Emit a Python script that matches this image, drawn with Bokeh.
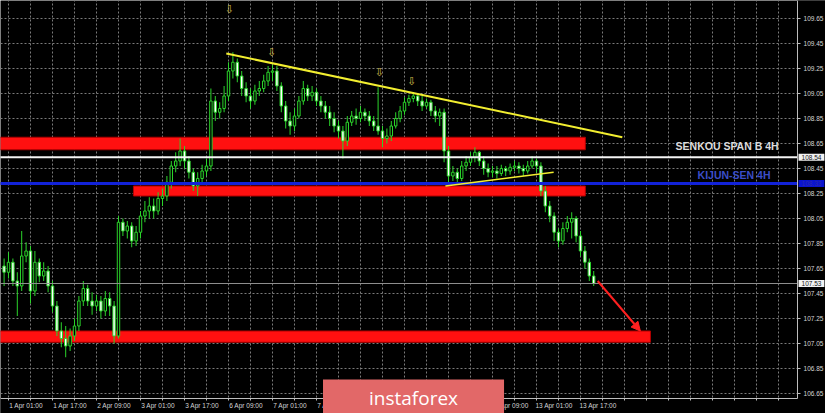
import numpy as np
from bokeh.plotting import figure
from bokeh.models import (Range1d, FixedTicker, PrintfTickFormatter, Label, Arrow,
                          NormalHead, LinearAxis)
from bokeh.core.properties import value
from bokeh.embed import file_html
from bokeh.resources import INLINE

# ---------------- data (candles) ----------------
opens = [
    107.67, 107.62, 107.70, 107.55, 107.51, 107.75, 107.79, 107.47, 107.70, 107.59,
    107.63, 107.51, 107.35, 107.15, 107.09, 107.03, 107.11, 107.19, 107.39, 107.49,
    107.39, 107.35, 107.39, 107.31, 107.41, 107.35, 107.11, 108.02, 107.95, 107.99,
    107.87, 107.94, 108.07, 108.11, 108.15, 108.11, 108.21, 108.23, 108.34, 108.47,
    108.51, 108.59, 108.51, 108.42, 108.31, 108.37, 108.43, 108.47, 108.99, 108.90,
    108.93, 109.03, 109.23, 109.30, 109.19, 109.09, 109.03, 108.99, 109.07, 109.09,
    109.15, 109.22, 109.23, 109.11, 108.95, 108.83, 108.79, 108.87, 108.99, 109.09,
    109.03, 109.06, 108.99, 108.95, 108.90, 108.85, 108.79, 108.75, 108.67, 108.82,
    108.87, 108.85, 108.90, 108.87, 108.83, 108.79, 108.75, 108.69, 108.71, 108.79,
    108.85, 108.91, 108.98, 109.01, 109.03, 108.99, 108.95, 108.98, 108.91, 108.87,
    108.90, 108.59, 108.39, 108.42, 108.37, 108.47, 108.50, 108.54, 108.58, 108.51,
    108.45, 108.42, 108.43, 108.41, 108.45, 108.43, 108.46, 108.47, 108.45, 108.43,
    108.47, 108.51, 108.47, 108.27, 108.15, 108.07, 107.94, 107.87, 107.97, 108.02,
    108.05, 107.91, 107.79, 107.70, 107.59,
]
highs = [
    107.73, 107.78, 107.73, 107.62, 107.95, 107.86, 107.83, 107.79, 107.73, 107.70,
    107.67, 107.55, 107.39, 107.22, 107.19, 107.17, 107.25, 107.43, 107.55, 107.52,
    107.46, 107.44, 107.43, 107.47, 107.46, 107.39, 108.07, 108.05, 108.03, 108.02,
    107.99, 108.11, 108.19, 108.22, 108.21, 108.26, 108.29, 108.39, 108.51, 108.58,
    108.69, 108.63, 108.55, 108.45, 108.42, 108.48, 108.53, 109.09, 109.03, 108.98,
    109.11, 109.30, 109.38, 109.33, 109.23, 109.14, 109.09, 109.12, 109.15, 109.20,
    109.27, 109.28, 109.27, 109.14, 108.99, 108.90, 108.93, 109.03, 109.15, 109.12,
    109.11, 109.09, 109.03, 108.99, 108.95, 108.90, 108.83, 108.79, 108.87, 108.91,
    108.93, 108.95, 108.93, 108.91, 108.87, 109.10, 108.79, 108.77, 108.83, 108.90,
    108.95, 109.02, 109.04, 109.06, 109.05, 109.03, 109.01, 109.00, 108.95, 108.93,
    108.93, 108.63, 108.47, 108.45, 108.51, 108.55, 108.58, 108.62, 108.59, 108.55,
    108.49, 108.47, 108.47, 108.48, 108.47, 108.49, 108.51, 108.50, 108.48, 108.51,
    108.55, 108.53, 108.50, 108.31, 108.19, 108.10, 107.97, 108.02, 108.07, 108.10,
    108.07, 107.95, 107.83, 107.73, 107.63,
]
lows = [
    107.51, 107.57, 107.51, 107.27, 107.47, 107.70, 107.37, 107.43, 107.54, 107.55,
    107.46, 107.30, 107.11, 107.02, 106.94, 106.99, 107.07, 107.15, 107.35, 107.35,
    107.28, 107.31, 107.25, 107.27, 107.27, 107.05, 107.09, 107.91, 107.89, 107.82,
    107.83, 107.89, 108.02, 108.05, 108.05, 108.08, 108.15, 108.19, 108.29, 108.42,
    108.47, 108.45, 108.37, 108.27, 108.23, 108.34, 108.39, 108.43, 108.83, 108.85,
    108.90, 108.99, 109.17, 109.14, 109.03, 108.98, 108.93, 108.96, 109.03, 109.06,
    109.11, 109.15, 109.07, 108.90, 108.77, 108.72, 108.75, 108.85, 108.96, 108.99,
    108.99, 108.95, 108.90, 108.85, 108.79, 108.74, 108.69, 108.53, 108.63, 108.79,
    108.80, 108.82, 108.83, 108.79, 108.75, 108.72, 108.62, 108.65, 108.67, 108.77,
    108.82, 108.88, 108.95, 108.98, 108.95, 108.91, 108.93, 108.87, 108.82, 108.79,
    108.50, 108.34, 108.35, 108.33, 108.35, 108.43, 108.47, 108.50, 108.47, 108.40,
    108.38, 108.38, 108.37, 108.39, 108.39, 108.40, 108.43, 108.41, 108.39, 108.41,
    108.45, 108.42, 108.23, 108.10, 108.02, 107.87, 107.82, 107.84, 107.94, 107.89,
    107.86, 107.75, 107.65, 107.55, 107.51,
]
closes = [
    107.62, 107.70, 107.55, 107.51, 107.75, 107.79, 107.47, 107.70, 107.59, 107.63,
    107.51, 107.35, 107.15, 107.09, 107.03, 107.11, 107.19, 107.39, 107.49, 107.39,
    107.35, 107.39, 107.31, 107.41, 107.35, 107.11, 108.02, 107.95, 107.99, 107.87,
    107.94, 108.07, 108.11, 108.15, 108.11, 108.21, 108.23, 108.34, 108.47, 108.51,
    108.59, 108.51, 108.42, 108.31, 108.37, 108.43, 108.47, 108.99, 108.90, 108.93,
    109.03, 109.23, 109.30, 109.19, 109.09, 109.03, 108.99, 109.07, 109.09, 109.15,
    109.22, 109.23, 109.11, 108.95, 108.83, 108.79, 108.87, 108.99, 109.09, 109.03,
    109.06, 108.99, 108.95, 108.90, 108.85, 108.79, 108.75, 108.67, 108.82, 108.87,
    108.85, 108.90, 108.87, 108.83, 108.79, 108.75, 108.69, 108.71, 108.79, 108.85,
    108.91, 108.98, 109.01, 109.03, 108.99, 108.95, 108.98, 108.91, 108.87, 108.90,
    108.59, 108.39, 108.42, 108.37, 108.47, 108.50, 108.54, 108.58, 108.51, 108.45,
    108.42, 108.43, 108.41, 108.45, 108.43, 108.46, 108.47, 108.45, 108.43, 108.47,
    108.51, 108.47, 108.27, 108.15, 108.07, 107.94, 107.87, 107.97, 108.02, 108.05,
    107.91, 107.79, 107.70, 107.59, 107.53,
]

time_ticks = [1, 11, 21, 31, 41, 51, 61, 71, 81, 91, 101, 111, 121, 131, 141, 151, 161, 171]
time_minor = [6, 16, 26, 36, 46, 56, 66, 76, 86, 96, 106, 116, 126, 136, 146, 156, 166, 176]
time_labels = ["1 Apr 01:00", "1 Apr 17:00", "2 Apr 09:00", "3 Apr 01:00", "3 Apr 17:00",
               "6 Apr 09:00", "7 Apr 01:00", "7 Apr 17:00", "8 Apr 09:00", "9 Apr 01:00",
               "9 Apr 17:00", "10 Apr 09:00", "13 Apr 01:00", "13 Apr 17:00", "", "", "", ""]
price_ticks = [106.65, 106.85, 107.05, 107.25, 107.45, 107.65, 107.85, 108.05,
               108.25, 108.45, 108.65, 108.85, 109.05, 109.25, 109.45, 109.65]

# support / resistance zones
zone_bottom = [108.60, 108.23, 107.06]
zone_top = [108.70, 108.31, 107.15]
zone_start = [-2.0, 29.4, -2.0]
zone_end = [132.1, 132.1, 146.9]

senkou_b = 108.54
kijun = 108.33
last_price = 107.53

trend_x = [50.5, 140.5]
trend_y = [109.37, 108.70]
minor_trend_x = [100.3, 124.9]
minor_trend_y = [108.31, 108.42]
target_x = [134.9, 144.6]
target_y = [107.55, 107.15]
fractal_x = [51.2, 60.8, 85.3, 92.6]
fractal_y = [109.72, 109.38, 109.22, 109.15]

# ---------------- layout constants ----------------
X0, X1 = -0.818, 186.68     # visible bar-index range (whole canvas)
Y0, Y1 = 106.49, 109.794    # visible price range (whole canvas)
AXIS_X = 180.32             # where the price scale sits
AXIS_Y = 106.61             # where the time scale sits
LABEL_SHIFT = 4.0           # time labels start at their tick (left aligned)

p = figure(width=825, height=413, output_backend="svg", toolbar_location=None,
           x_range=Range1d(X0, X1), y_range=Range1d(Y0, Y1),
           y_axis_location="right", background_fill_color="black",
           border_fill_color="black", min_border=0)
p.outline_line_color = None

AX = "#bdbdbd"
TXT = "#d6d6d6"
FONT = "Liberation Sans"

# time scale: ticks + line
xa = p.xaxis[0]
xa.fixed_location = AXIS_Y
xa.bounds = (X0, AXIS_X)
xa.ticker = FixedTicker(ticks=time_ticks, minor_ticks=time_minor)
xa.major_label_text_font_size = "0px"
xa.major_label_text_color = None
xa.axis_line_color = AX
xa.major_tick_line_color = AX
xa.major_tick_in = 0
xa.major_tick_out = 2
xa.minor_tick_line_color = AX
xa.minor_tick_in = 0
xa.minor_tick_out = 2

# time scale labels, starting at each tick
label_ticks = [t + LABEL_SHIFT for t in time_ticks]
xl = LinearAxis(fixed_location=AXIS_Y, bounds=(X0, X1 - 2),
                ticker=FixedTicker(ticks=label_ticks, minor_ticks=[]),
                major_label_overrides={t: lab for t, lab in zip(label_ticks, time_labels)},
                axis_line_color=None, major_tick_line_color=None, minor_tick_line_color=None,
                major_tick_out=2, major_tick_in=0, major_label_standoff=1,
                major_label_text_font=FONT, major_label_text_font_size="6.5px",
                major_label_text_color=TXT)
p.add_layout(xl, "below")

ya = p.yaxis[0]
ya.fixed_location = AXIS_X
ya.bounds = (AXIS_Y, Y1)
ya.ticker = FixedTicker(ticks=price_ticks)
ya.formatter = PrintfTickFormatter(format="%.2f")
ya.major_label_text_font = FONT
ya.major_label_text_font_size = "6.5px"
ya.major_label_text_color = TXT
ya.major_label_standoff = 3
ya.axis_line_color = AX
ya.major_tick_line_color = AX
ya.major_tick_in = 0
ya.major_tick_out = 3
ya.minor_tick_line_color = None

GRID = "#7a7a7a"
p.xgrid[0].ticker = xa.ticker
for g in (p.xgrid[0], p.ygrid[0]):
    g.grid_line_color = GRID
    g.grid_line_dash = "2 2"
    g.grid_line_width = 1
p.xgrid[0].minor_grid_line_color = GRID
p.xgrid[0].minor_grid_line_dash = "2 2"

# keep the grid inside the price/time scales (black margin areas)
p.quad(left=[AXIS_X, X0 - 5], right=[X1 + 5, X1 + 5], bottom=[Y0 - 1, Y0 - 1],
       top=[Y1 + 1, AXIS_Y], fill_color="black", line_color=None)

# zones
p.quad(left=zone_start, right=zone_end, bottom=zone_bottom, top=zone_top,
       fill_color="#ff1010", line_color="#b00000", line_width=1)

# candles
CANDLE = "#2bd42b"
idx = np.arange(len(opens))
o = np.array(opens)
c = np.array(closes)
body_top = np.maximum(o, c)
body_bot = np.minimum(o, c)
fills = ["black" if cc >= oo else "white" for oo, cc in zip(opens, closes)]
p.segment(x0=idx, y0=highs, x1=idx, y1=lows, line_color=CANDLE, line_width=1)
p.vbar(x=idx, width=0.55, top=body_top, bottom=body_bot,
       fill_color=fills, line_color=CANDLE, line_width=1)

# horizontal levels (up to the price scale)
p.segment(x0=[X0 - 5] * 3, x1=[AXIS_X] * 3, y0=[last_price, senkou_b, kijun],
          y1=[last_price, senkou_b, kijun], line_color=["#8e8e8e", "#f4f4f4", "#1222d8"],
          line_width=[1, 2, 3])

# trend lines
p.line(trend_x, trend_y, line_color="#f2ee30", line_width=2)
p.line(minor_trend_x, minor_trend_y, line_color="#f2ee30", line_width=1.5)
p.add_layout(Arrow(end=NormalHead(size=9, fill_color="#ff2020", line_color="#ff2020"),
                   x_start=target_x[0], y_start=target_y[0],
                   x_end=target_x[1], y_end=target_y[1],
                   line_color="#ff2020", line_width=2))

# fractal arrows
p.text(x=fractal_x, y=fractal_y, text=["\u21e9"] * len(fractal_x),
       text_font=value("DejaVu Sans"), text_font_size="11px", text_color="#cdb84a",
       text_align="center", text_baseline="middle")

# level captions
p.add_layout(Label(x=152.6, y=108.634, text="SENKOU SPAN B 4H", text_color="#dcdcdc",
                   text_font=FONT, text_font_style="bold", text_font_size="10.5px",
                   text_align="left", text_baseline="middle"))
p.add_layout(Label(x=157.6, y=108.40, text="KIJUN-SEN 4H", text_color="#3c4ec8",
                   text_font=FONT, text_font_style="bold", text_font_size="10.5px",
                   text_align="left", text_baseline="middle"))

# price tags on the scale
for level, box, ink in ((senkou_b, "#f2f2f2", "#151515"),
                        (kijun, "#0a14d0", "#2a2aa8"),
                        (last_price, "#f2f2f2", "#151515")):
    p.add_layout(Label(x=AXIS_X, y=level, x_offset=1, text="%.2f" % level,
                       text_color=ink, text_font=FONT, text_font_size="6.5px",
                       text_align="left", text_baseline="middle",
                       background_fill_color=box,
                       padding=dict(left=3, right=3, top=1, bottom=1)))

# logo
p.add_layout(Label(x=93.05, y=106.618, text="instaforex", text_color="white",
                   text_font="Open Sans", text_font_size="19px",
                   text_align="center", text_baseline="middle",
                   background_fill_color="#e26868",
                   padding=dict(left=46, right=46, top=5, bottom=5)))

open("out.html", "w").write(file_html(p, INLINE))
